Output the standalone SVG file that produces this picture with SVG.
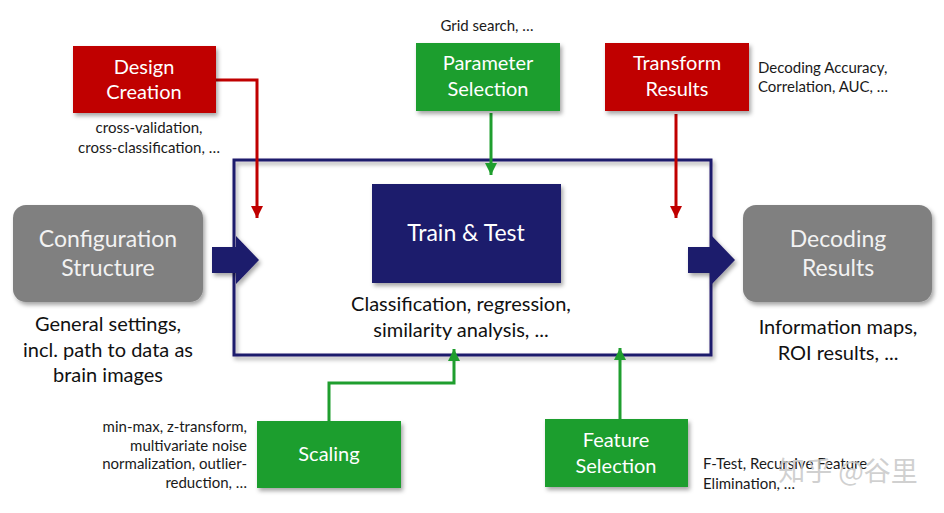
<svg xmlns="http://www.w3.org/2000/svg" width="944" height="513" viewBox="0 0 944 513">
<defs>
<filter id="sh" x="-10%" y="-10%" width="130%" height="140%">
<feDropShadow dx="2" dy="3" stdDeviation="2" flood-color="#000" flood-opacity="0.35"/>
</filter>
<marker id="ar" markerUnits="userSpaceOnUse" markerWidth="14" markerHeight="14" viewBox="0 0 14 14" refX="12" refY="7" orient="auto">
<path d="M0,1 L12,7 L0,13 z" fill="#c00000"/>
</marker>
<marker id="ag" markerUnits="userSpaceOnUse" markerWidth="14" markerHeight="14" viewBox="0 0 14 14" refX="12" refY="7" orient="auto">
<path d="M0,1 L12,7 L0,13 z" fill="#1f9e2e"/>
</marker>
</defs>
<style>
text{font-family:Lato,"Open Sans","Noto Sans",sans-serif;}
.red{fill:#c00000;filter:url(#sh);}
.grn{fill:#1f9e2e;filter:url(#sh);}
.gry{fill:#808080;filter:url(#sh);}
.nav{fill:#1e1a6c;filter:url(#sh);}
.bt{fill:#ffffff;font-size:20px;text-anchor:middle;}
.gt{fill:#f2f2f2;font-size:23px;text-anchor:middle;}
.sm{fill:#1a1a1a;font-size:15px;}
.md{fill:#111111;font-size:20px;text-anchor:middle;}
.lr{fill:none;stroke:#c00000;stroke-width:3;marker-end:url(#ar);}
.lg{fill:none;stroke:#1f9e2e;stroke-width:3;marker-end:url(#ag);}
</style>
<rect width="944" height="513" fill="#ffffff"/>

<g id="frame">
<rect x="234" y="160" width="477" height="195" fill="none" stroke="#1e1a6c" stroke-width="3" filter="url(#sh)"/>
</g>

<g id="connectors">
<path class="lr" d="M216,80 H257 V218"/>
<path class="lg" d="M491,113 V175"/>
<path class="lr" d="M676,114 V218"/>
<path class="lg" d="M329,421 V383 H454 V349"/>
<path class="lg" d="M620,419 V348"/>
<polygon points="212,247 236,247 236,236 259,260 236,284 236,273 212,273" fill="#1e1a6c" filter="url(#sh)"/>
<polygon points="688,247 710,247 710,234 735,260 710,286 710,273 688,273" fill="#1e1a6c" filter="url(#sh)"/>
</g>

<g id="design-creation">
<rect class="red" x="73" y="46" width="143" height="67"/>
<text class="bt" x="144" y="74">Design</text>
<text class="bt" x="144" y="99">Creation</text>
<text class="sm" x="149" y="133" text-anchor="middle">cross-validation,</text>
<text class="sm" x="149" y="153" text-anchor="middle">cross-classification, …</text>
</g>

<g id="parameter-selection">
<rect class="grn" x="416" y="43" width="144" height="68"/>
<text class="bt" x="488" y="70">Parameter</text>
<text class="bt" x="488" y="96">Selection</text>
<text class="sm" x="487" y="31" text-anchor="middle">Grid search, …</text>
</g>

<g id="transform-results">
<rect class="red" x="605" y="43" width="144" height="68"/>
<text class="bt" x="677" y="70">Transform</text>
<text class="bt" x="677" y="96">Results</text>
<text class="sm" x="758" y="73">Decoding Accuracy,</text>
<text class="sm" x="758" y="92">Correlation, AUC, …</text>
</g>

<g id="train-test">
<rect class="nav" x="372" y="184" width="189" height="99"/>
<text class="gt" x="466" y="241" style="fill:#ffffff">Train &amp; Test</text>
<text class="md" x="461" y="311">Classification, regression,</text>
<text class="md" x="461" y="337">similarity analysis, ...</text>
</g>

<g id="configuration-structure">
<rect class="gry" x="13" y="205" width="190" height="97" rx="13"/>
<text class="gt" x="108" y="247">Configuration</text>
<text class="gt" x="108" y="276">Structure</text>
<text class="md" x="108" y="331">General settings,</text>
<text class="md" x="108" y="357">incl. path to data as</text>
<text class="md" x="108" y="382">brain images</text>
</g>

<g id="decoding-results">
<rect class="gry" x="743" y="205" width="189" height="97" rx="13"/>
<text class="gt" x="838" y="247">Decoding</text>
<text class="gt" x="838" y="276">Results</text>
<text class="md" x="838" y="334">Information maps,</text>
<text class="md" x="838" y="360">ROI results, ...</text>
</g>

<g id="scaling">
<rect class="grn" x="257" y="421" width="144" height="67"/>
<text class="bt" x="329" y="461">Scaling</text>
<text class="sm" x="247" y="432" text-anchor="end">min-max, z-transform,</text>
<text class="sm" x="247" y="451" text-anchor="end">multivariate noise</text>
<text class="sm" x="247" y="469" text-anchor="end">normalization, outlier-</text>
<text class="sm" x="247" y="488" text-anchor="end">reduction, …</text>
</g>

<g id="feature-selection">
<rect class="grn" x="545" y="419" width="143" height="68"/>
<text class="bt" x="616" y="447">Feature</text>
<text class="bt" x="616" y="473">Selection</text>
<text class="sm" x="703" y="469">F-Test, Recursive Feature</text>
<text class="sm" x="703" y="489">Elimination, …</text>
</g>

<g id="watermark">
<text x="848" y="481" text-anchor="middle" style="font-family:'Noto Sans CJK SC',sans-serif;font-size:27px;fill:#c8c8c8;fill-opacity:0.85">知乎 @谷里</text>
</g>
</svg>
